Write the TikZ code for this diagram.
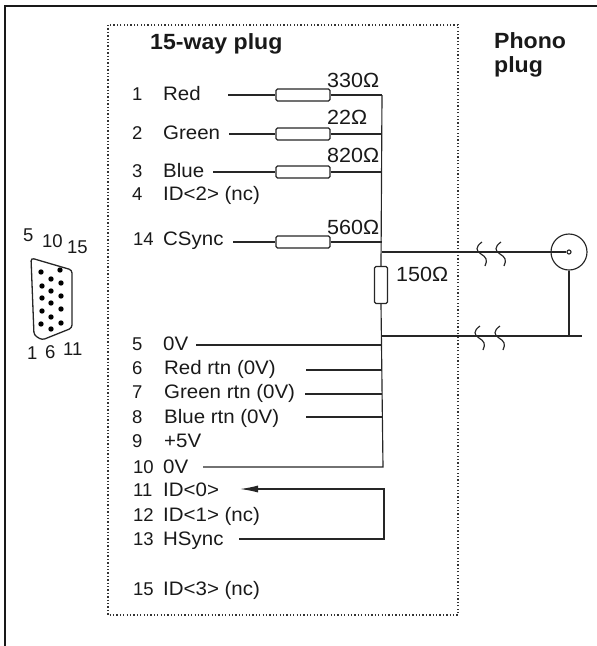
\documentclass[tikz,border=0pt]{standalone}
\usepackage{fontspec}
\setmainfont{Liberation Sans}
\newfontfamily\widefont[FakeStretch=1.05]{Liberation Sans}
\usetikzlibrary{arrows.meta}
\tikzset{
  x=1pt,y=-1pt,
  wire/.style={line width=1.15pt,black!85},
  lbl/.style={inner sep=0pt,anchor=base west,font=\widefont\fontsize{19.5}{21}\selectfont,text=black!90},
  num/.style={inner sep=0pt,anchor=base west,font=\fontsize{18.5}{20}\selectfont,text=black!90},
  val/.style={lbl,font=\widefont\fontsize{20.5}{22}\selectfont},
  head/.style={lbl,font=\widefont\fontsize{22}{24}\bfseries\selectfont},
  res/.style={draw,line width=1.15pt,black!85,rounded corners=1.5pt,minimum width=54pt,minimum height=12pt,inner sep=0pt,fill=white},
  vres/.style={res,minimum width=13pt,minimum height=37pt},
  frame/.style={line width=1.8pt,black!90},
  dots/.style={line width=1.3pt,black!80,dash pattern=on 1.3pt off 2.1pt},
  pin/.style={circle,fill=black,inner sep=0pt,minimum size=5.4pt},
  brk/.style={line width=1.15pt,black!85},
}
\begin{document}
\begin{tikzpicture}
\useasboundingbox (0,0) rectangle (597,646);
% outer frame
\coordinate (fa) at (5,646); \coordinate (fb) at (5,6); \coordinate (fc) at (597,6);
\draw[frame] (fa) -- (fb) -- (fc);
% dotted box
\draw[dots] (108,25) rectangle (458,615);
% headings
\node[head] at (150,49) {15-way plug};
\node[head] at (494,48) {Phono};
\node[head] at (494,72) {plug};
% connector
\draw[line width=1.3pt,black!85,rounded corners=3pt] (31,258) -- (72,270) -- (72,328) -- (42,340) -- (34,335) -- cycle;
\foreach \n/\x/\y in {a/41/272,b/60/270,c/51/279,d/42/286,e/61/283,f/51/291,g/42/298,h/61/296,i/51/303,j/42/311,k/61/309,l/51/317,m/41/324,n/61/323,o/51/329}
  \node[pin] (p\n) at (\x,\y) {};
\node[num] at (23,241) {5};
\node[num] at (42,247) {10};
\node[num] at (67,253) {15};
\node[num] at (27,359) {1};
\node[num] at (45,358) {6};
\node[num] at (63,355) {11};
% pin labels
\node[num] (n1) at (132,100) {1};   \node[lbl] (t1) at (163,100) {Red};
\node[num] (n2) at (132,139) {2};   \node[lbl] (t2) at (163,139) {Green};
\node[num] (n3) at (132,177) {3};   \node[lbl] (t3) at (163,177) {Blue};
\node[num] (n4) at (132,200) {4};   \node[lbl] (t4) at (163,200) {ID<2> (nc)};
\node[num] (n14) at (133,245) {14}; \node[lbl] (t14) at (163,245) {CSync};
\node[num] (n5) at (132,350) {5};   \node[lbl] (t5) at (163,350) {0V};
\node[num] (n6) at (132,374) {6};   \node[lbl] (t6) at (164,374) {Red rtn (0V)};
\node[num] (n7) at (132,398) {7};   \node[lbl] (t7) at (164,398) {Green rtn (0V)};
\node[num] (n8) at (132,423) {8};   \node[lbl] (t8) at (164,423) {Blue rtn (0V)};
\node[num] (n9) at (132,447) {9};   \node[lbl] (t9) at (164,447) {+5V};
\node[num] (n10) at (133,473) {10}; \node[lbl] (t10) at (163,473) {0V};
\node[num] (n11) at (133,496) {11}; \node[lbl] (t11) at (163,496) {ID<0>};
\node[num] (n12) at (133,521) {12}; \node[lbl] (t12) at (163,521) {ID<1> (nc)};
\node[num] (n13) at (133,545) {13}; \node[lbl] (t13) at (163,545) {HSync};
\node[num] (n15) at (133,595) {15}; \node[lbl] (t15) at (163,595) {ID<3> (nc)};
% resistors
\node[res] (r1) at (303,95) {};
\node[res] (r2) at (303,134) {};
\node[res] (r3) at (303,172) {};
\node[res] (r4) at (303,242) {};
\node[vres] (r5) at (381,285) {};
\node[val] at (327,87) {330Ω};
\node[val] at (327,124) {22Ω};
\node[val] at (327,162) {820Ω};
\node[val] at (327,234) {560Ω};
\node[val] at (396,281) {150Ω};
% free wire ends
\coordinate (w1) at (228,95);
\coordinate (w2) at (229,134);
\coordinate (w3) at (213,172);
\coordinate (w4) at (233,242);
\coordinate (w5) at (196,345);
\coordinate (w6) at (306,370);
\coordinate (w7) at (305,394);
\coordinate (w8) at (306,417);
\coordinate (w10) at (203,467);
\coordinate (w11) at (240,489);
\coordinate (w13) at (239,539);
\coordinate (b1) at (382,95);
\coordinate (b2) at (382,134);
\coordinate (b3) at (382,172);
\coordinate (b4) at (382,242);
\coordinate (b5) at (382,252);
\coordinate (b6) at (382,336);
\coordinate (b7) at (382,345);
\coordinate (b8) at (382,370);
\coordinate (b9) at (382,394);
\coordinate (b10) at (382,417);
\coordinate (b11) at (383,467);
\coordinate (c1) at (384,489);
\coordinate (c2) at (384,539);
% wires
\draw[wire] (w1) -- (r1) (r1) -- (b1);
\draw[wire] (w2) -- (r2) (r2) -- (b2);
\draw[wire] (w3) -- (r3) (r3) -- (b3);
\draw[wire] (w4) -- (r4) (r4) -- (b4);
\draw[wire] (b1) -- (r5.north);
\draw[wire] (r5.south) -- (b11) -- (w10);
\draw[wire] (w5) -- (b7);
\draw[wire] (w6) -- (b8);
\draw[wire] (w7) -- (b9);
\draw[wire] (w8) -- (b10);
\draw[wire,-{Latex[length=18pt,width=7pt]}] (w13) -- (c2) -- (c1) -- (w11);
% phono plug
\node[circle,draw,line width=1.15pt,black!85,minimum size=36pt,inner sep=0pt] (ph) at (569,252) {};
\node[circle,draw,line width=1.15pt,black!85,minimum size=4pt,inner sep=0pt,fill=white] (pc) at (569,252) {};
\coordinate (g1) at (569,336);
\coordinate (g2) at (582,336);
\draw[wire] (b5) -- (pc);
\draw[wire] (b6) -- (g2);
\draw[wire] (ph.south) -- (g1);
% cable breaks
\foreach \x/\y in {482/252,501/252,480/336,500/336}
  \draw[brk] (\x,\y-10) .. controls (\x-7,\y-5) and (\x-6,\y-1) .. (\x-1,\y+2) .. controls (\x+4,\y+5) and (\x+6,\y+8) .. (\x+3,\y+14);
\end{tikzpicture}
\end{document}
